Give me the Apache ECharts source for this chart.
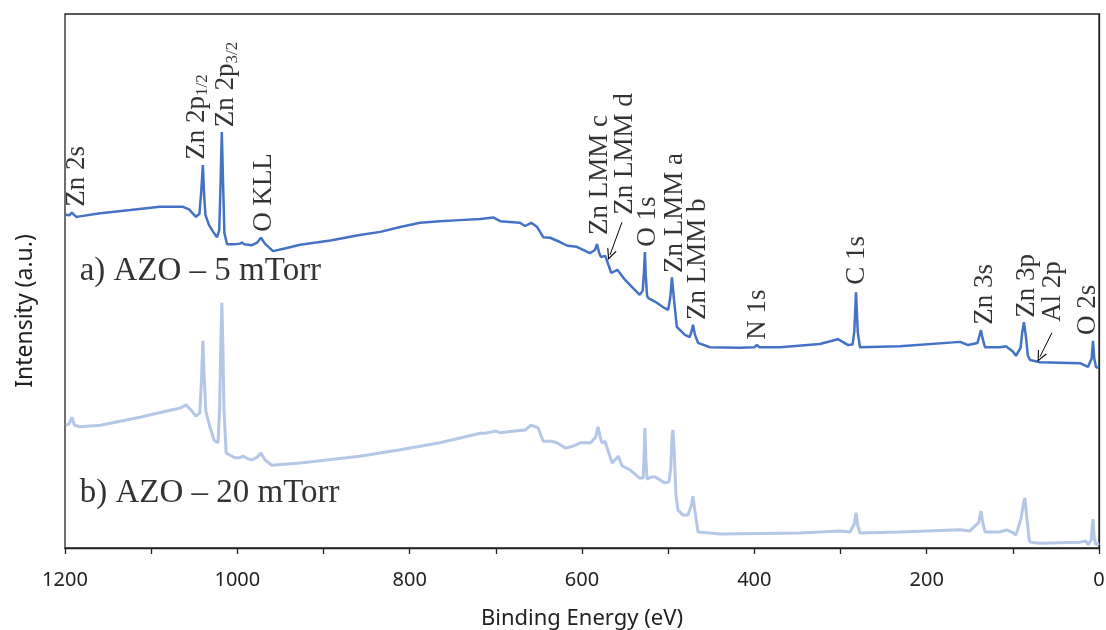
<!DOCTYPE html>
<html>
<head>
<meta charset="utf-8">
<script src="https://cdn.jsdelivr.net/npm/echarts@6/dist/echarts.min.js"></script>
<style>
  html, body { margin: 0; padding: 0; background: #fff; }
  #chart { width: 1106px; height: 630px; }
</style>
</head>
<body>
<div id="chart"></div>
<script>
// XPS survey spectra: [binding energy (eV), intensity (a.u., offset)]
const spectrum5mTorr = [
  [1199, 62.4], [1195, 62.3], [1192, 62.8], [1190, 62.6], [1187, 62.0], [1183, 62.1],
  [1159, 62.7], [1124, 63.3], [1090, 63.9], [1063, 63.9], [1056, 63.4], [1048, 62.0],
  [1044, 62.6], [1042, 66.5], [1040, 71.7], [1038.5, 66], [1037, 62.4], [1033, 60.5],
  [1028, 59.2], [1023.6, 58.2], [1021, 59.5], [1019.5, 68], [1018, 77.9], [1016.5, 68],
  [1015, 59], [1012, 56.9], [1003, 56.9], [997, 57.0], [994.6, 57.2], [992, 56.9],
  [983, 56.7], [977, 57.2], [972.5, 58.1], [968, 57.0], [958.6, 55.6], [945, 56.1],
  [927, 56.8], [892, 57.6], [858, 58.6], [834, 59.2], [811, 60.1], [788, 60.9],
  [765, 61.2], [742, 61.4], [718, 61.6], [703, 61.9], [695, 61.2], [672, 60.9],
  [666, 60.3], [659, 60.9], [652, 60.1], [645, 58.2], [637, 58.1], [625.5, 57.3],
  [617, 56.6], [606, 56.4], [591, 55.2], [585, 55.8], [582.6, 56.9], [580, 55.2],
  [578, 54.5], [573, 54.7], [566, 51.5], [559, 52.1], [550, 50.2], [541, 48.7],
  [533, 47.4], [529.5, 48.2], [528, 52], [527, 55.4], [526, 51], [524.5, 47.2],
  [523, 46.8], [515, 46.1], [504, 44.9], [500, 44.6], [497.5, 47], [495.6, 50.7],
  [493.5, 47], [490, 41.4], [480.5, 39.9], [475, 39.5], [473, 40.5], [471.2, 41.8],
  [469, 40], [465.4, 38.4], [451.5, 37.6], [417, 37.5], [400, 37.6], [397, 38.0],
  [394, 37.6], [370, 37.6], [324, 38.2], [303, 39.1], [291, 38.0], [286, 38.1],
  [284, 40.5], [282, 47.9], [280, 40.5], [277.4, 37.6], [231, 37.8], [161, 38.6],
  [152, 38.0], [141, 38.4], [139, 39.6], [137, 40.8], [135, 39.2], [132.3, 37.6],
  [115, 37.6], [108, 37.8], [100, 36.8], [96.4, 36.0], [91, 37.5], [89, 40.5],
  [87.1, 42.3], [85, 39.8], [82.5, 36.0], [80, 35.2], [68.5, 34.8], [22, 34.6],
  [12.8, 33.9], [8.5, 35.5], [7, 38.8], [5.5, 35.5], [3.5, 33.9], [0, 33.7]
];

const spectrum20mTorr = [
  [1199, 23.0], [1195, 23.3], [1192, 24.5], [1189, 23.0], [1183, 22.7], [1159, 23.0],
  [1113, 24.5], [1078, 25.8], [1066.5, 26.2], [1059.6, 26.8], [1052, 25.5], [1048, 24.7],
  [1043.5, 25.3], [1041.5, 32], [1040, 38.8], [1038.5, 32], [1036.5, 25.5], [1032, 22.8],
  [1027, 20.2], [1022.4, 19.7], [1020.5, 26], [1019.2, 38], [1018, 45.9], [1016.8, 38],
  [1015.5, 26], [1013, 17.8], [1003, 16.9], [997, 16.9], [993.4, 17.2], [988, 16.7],
  [983, 16.5], [977, 17.0], [972.5, 17.8], [968, 16.5], [960, 15.5], [927, 15.9],
  [858, 17.2], [811, 18.4], [765, 19.7], [718, 21.5], [712.6, 21.5], [706, 21.7],
  [700, 21.9], [695, 21.6], [678, 21.9], [666, 22.1], [659, 23.0], [651, 22.5],
  [645, 20.0], [636, 20.0], [629, 19.7], [619, 18.7], [610, 19.1], [602, 19.7],
  [590, 19.7], [584, 20.8], [581.4, 22.7], [578.5, 20.5], [576.8, 19.7], [573.3, 20.0],
  [565, 15.9], [558, 17.2], [553.6, 15.4], [544, 14.6], [533, 13.1], [529, 13.1],
  [528, 17], [527, 22.5], [526, 17], [524.5, 12.9], [519, 13.3], [515, 13.3],
  [504, 12.2], [499, 12.4], [497, 15], [495.5, 21.0], [494.4, 22.1], [493, 18],
  [491, 10], [488.6, 7.1], [483, 6.2], [477, 6.2], [473, 8], [471.2, 9.7],
  [469, 7], [465.4, 3.0], [451.5, 2.8], [440, 2.6], [347, 2.8], [301, 3.2],
  [289, 3.0], [284, 4.5], [282, 6.6], [280, 4.2], [277.4, 2.8], [231, 3.0],
  [161, 3.4], [150, 3.2], [139.5, 4.8], [137, 6.9], [134.5, 4.5], [132.3, 3.0],
  [115, 3.0], [107, 3.4], [100, 2.9], [96.4, 2.4], [90.5, 5.5], [87.5, 8.5],
  [86, 9.4], [84, 6], [81, 1.6], [80, 1.1], [68.5, 0.9], [22, 1.1],
  [15, 1.3], [12.8, 0.6], [9, 1.5], [7, 5.4], [5.5, 1.8], [3.5, 0.6], [0, 0.9]
];

// Peak assignments: text, energy and height where each vertical label starts
const peakNames = ['Zn 2s', 'Zn 2p{s|1/2}', 'Zn 2p{s|3/2}', 'O KLL', 'Zn LMM c', 'Zn LMM d',
  'O 1s', 'Zn LMM a', 'Zn LMM b', 'N 1s', 'C 1s', 'Zn 3s', 'Zn 3p', 'Al 2p', 'O 2s'];
const peakLabelEnergy = [1186, 1047, 1013, 969, 579, 550, 523, 492, 465, 396, 281, 132, 84, 53, 13];
const peakLabelHeight = [63.9, 72.7, 78.8, 59.2, 58.6, 62.4, 56.4, 51.5, 42.7, 39.0, 49.3, 41.8, 43.1, 42.3, 39.9];

// Leader arrows for the crowded assignments (Zn LMM d, Al 2p)
const arrowLines = [
  [[553.6, 61.0], [567.5, 54.9]],
  [[54.6, 40.3], [68.5, 35.8]]
];

// Sample names
const sampleNames = ['a) AZO \u2013 5 mTorr', 'b) AZO \u2013 20 mTorr'];
const sampleLabelPos = [[1183, 51.9], [1183, 10.3]];

const chart = echarts.init(document.getElementById('chart'), null, { renderer: 'canvas' });

const serif = 'Liberation Serif';
const sans = 'Noto Sans';
// open "V" arrow head, tip at the top of the symbol box
const openArrow = 'path://M5,0 L10,10 L8.8,10 L5,2.4 L1.2,10 L0,10 Z';

chart.setOption({
  animation: false,
  backgroundColor: '#fff',
  grid: {
    left: 65, right: 7, top: 14, bottom: 82,
    outerBoundsMode: 'none',
    containLabel: false,
    show: true, borderColor: '#222', borderWidth: 1.3, backgroundColor: 'transparent'
  },
  xAxis: {
    type: 'value',
    min: 0, max: 1200, interval: 200,
    inverse: true,
    name: 'Binding Energy (eV)',
    nameLocation: 'middle',
    nameGap: 60,
    nameTextStyle: { fontFamily: sans, fontSize: 22, color: '#222' },
    axisLine: { show: true, lineStyle: { color: '#222', width: 1.3 } },
    axisTick: { show: true, inside: false, length: 6, lineStyle: { color: '#222', width: 1.3 } },
    minorTick: { show: true, splitNumber: 2, length: 6, lineStyle: { color: '#222', width: 1.3 } },
    splitLine: { show: false },
    minorSplitLine: { show: false },
    axisLabel: { fontFamily: sans, fontSize: 20, color: '#222', margin: 22, formatter: v => String(v) }
  },
  yAxis: {
    type: 'value',
    min: 0, max: 100,
    name: 'Intensity (a.u.)',
    nameLocation: 'middle',
    nameGap: 28,
    nameTextStyle: { fontFamily: sans, fontSize: 23, color: '#222', padding: [0, 60, 0, 0] },
    axisLine: { show: true, lineStyle: { color: '#222', width: 1.3 } },
    axisTick: { show: false },
    axisLabel: { show: false },
    splitLine: { show: false }
  },
  series: [
    {
      type: 'line',
      data: spectrum20mTorr,
      showSymbol: false,
      symbol: 'none',
      lineStyle: { color: '#B4C7E7', width: 3 },
      silent: true,
      z: 2
    },
    {
      type: 'line',
      data: spectrum5mTorr,
      showSymbol: false,
      symbol: 'none',
      lineStyle: { color: '#4472C4', width: 2.5 },
      silent: true,
      z: 3,
      markLine: {
        silent: true,
        symbol: ['none', openArrow],
        symbolSize: [10, 11],
        label: { show: false },
        itemStyle: { color: '#000' },
        lineStyle: { color: '#000', width: 1, type: 'solid' },
        data: arrowLines.map(seg => [{ coord: seg[0] }, { coord: seg[1] }])
      }
    },
    {
      type: 'scatter',
      silent: true,
      symbolSize: 1,
      itemStyle: { color: 'rgba(0,0,0,0)' },
      z: 5,
      data: peakNames.map((n, i) => [peakLabelEnergy[i], peakLabelHeight[i], n]),
      label: {
        show: true,
        position: 'inside',
        rotate: 90,
        align: 'left',
        verticalAlign: 'middle',
        fontFamily: serif,
        fontSize: 27,
        color: '#000',
        formatter: p => p.data[2],
        rich: {
          s: { fontFamily: serif, fontSize: 17, color: '#000', verticalAlign: 'bottom', padding: [12, 0, 0, 0] }
        }
      }
    },
    {
      type: 'scatter',
      silent: true,
      symbolSize: 1,
      itemStyle: { color: 'rgba(0,0,0,0)' },
      z: 5,
      data: sampleNames.map((n, i) => [sampleLabelPos[i][0], sampleLabelPos[i][1], n]),
      label: {
        show: true,
        position: 'inside',
        align: 'left',
        verticalAlign: 'middle',
        fontFamily: serif,
        fontSize: 33,
        color: '#000',
        formatter: p => p.data[2]
      }
    }
  ]
});
</script>
</body>
</html>
